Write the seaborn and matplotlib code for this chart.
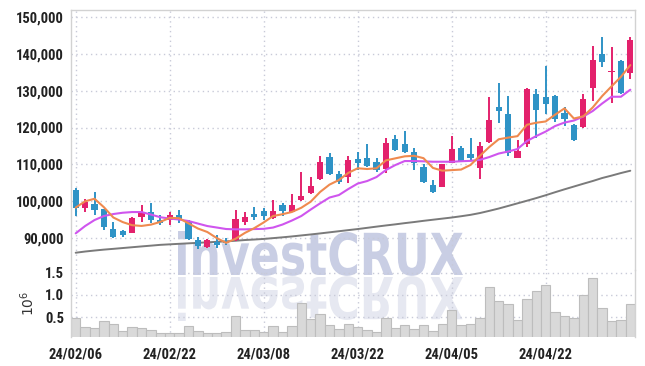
import numpy as np
import pandas as pd
import matplotlib
matplotlib.use('Agg')
import matplotlib.pyplot as plt
import matplotlib.ticker as mticker
from matplotlib.textpath import TextPath
from matplotlib.patches import PathPatch
from matplotlib.font_manager import FontProperties, fontManager
from matplotlib.transforms import Affine2D, IdentityTransform
import seaborn as sns

# ── données ────────────────────────────────────────────────────────────────
holidays = ['2024-02-09', '2024-02-12', '2024-03-01', '2024-04-10',
            '2024-05-01', '2024-05-06']
dates = pd.bdate_range('2024-02-06', '2024-05-07').drop(pd.to_datetime(holidays))

opens = [103000, 98000, 99100, 97800, 92350, 91800, 91350, 95700, 96900, 94800,
         94800, 96150, 94550, 89500, 87400, 88900, 89200, 89350, 94350, 96450,
         97350, 95250, 98900, 97050, 100250, 102100, 105950, 111900, 107250, 106600,
         111350, 111600, 110700, 108600, 116800, 115500, 113250, 109150, 104350, 103850,
         110400, 114350, 112800, 108900, 116150, 125650, 123650, 111600, 115400, 129050,
         128400, 128550, 123850, 120650, 120200, 130650, 140000, 135100, 138100, 134750]
highs = [103400, 100400, 102500, 97900, 94350, 92100, 95700, 98900, 99350, 96150,
         97050, 97550, 94800, 90300, 89600, 90600, 89800, 97550, 97050, 98450,
         98000, 100250, 99350, 101800, 107800, 106600, 112300, 113150, 108250, 112250,
         113400, 115500, 111600, 117200, 117950, 119100, 114500, 110050, 105700, 110050,
         117750, 115050, 117050, 115950, 128200, 132050, 128550, 116600, 130650, 130500,
         136800, 128800, 125650, 120900, 129050, 142250, 144700, 142000, 138300, 144700]
lows = [95900, 96900, 96200, 92100, 89800, 90250, 91200, 94350, 93900, 93450,
        93450, 94050, 89350, 86800, 87100, 87150, 88000, 89150, 93450, 94800,
        94800, 95100, 95900, 96900, 100050, 101900, 105700, 107000, 104600, 104800,
        108400, 109300, 107800, 107500, 113700, 112950, 108400, 105000, 102250, 103700,
        110250, 110700, 111150, 105900, 115700, 121150, 112300, 111600, 114750, 117050,
        123600, 121550, 120500, 116300, 119950, 127200, 136550, 126600, 129050, 133100]
closes = [98000, 99800, 97500, 93000, 90250, 90700, 95450, 96650, 94800, 94050,
          96150, 95000, 89650, 87600, 89300, 88000, 88450, 95100, 95700, 95700,
          95900, 97250, 97350, 98900, 101350, 104050, 110700, 107250, 105050, 111150,
          110400, 109500, 108400, 115700, 113850, 113250, 110250, 105250, 102500, 109950,
          114050, 110950, 111600, 114950, 122050, 124550, 112950, 113600, 130500, 124750,
          126400, 122250, 122250, 116600, 127750, 138350, 137900, 135450, 129450, 143800]
volumes = [490000, 280000, 250000, 410000, 350000, 190000, 280000, 250000, 220000, 150000,
           150000, 150000, 300000, 190000, 150000, 150000, 170000, 520000, 210000, 210000,
           170000, 300000, 170000, 300000, 810000, 450000, 570000, 320000, 230000, 340000,
           280000, 210000, 170000, 480000, 250000, 320000, 230000, 320000, 190000, 340000,
           660000, 320000, 340000, 480000, 1170000, 860000, 790000, 430000, 900000, 1100000,
           1220000, 610000, 520000, 480000, 990000, 1370000, 700000, 410000, 430000, 790000]
ma5 = [98200, 99900, 100600, 98300, 95500, 94250, 93400, 93200, 93550, 94300,
       95400, 95300, 93900, 92500, 91550, 89900, 88600, 89700, 91300, 92600,
       94150, 95900, 96400, 97000, 98150, 99800, 102450, 104450, 105700, 107650,
       108900, 108700, 108900, 111050, 111600, 112150, 112300, 111650, 109000, 108250,
       108400, 108550, 109800, 112300, 114700, 116800, 117250, 117650, 120750, 121300,
       121650, 123500, 125200, 122450, 123050, 125450, 128550, 131200, 133800, 137000]
ma20 = [91180, 93170, 94800, 95900, 96440, 96790, 96980, 96980, 96300, 95570,
        95210, 94940, 94530, 93850, 93170, 92770, 92360, 92270, 92270, 92350,
        92410, 92760, 93580, 94670, 95900, 97660, 99350, 100930, 101610, 103250,
        104740, 105420, 106510, 108420, 109780, 110870, 110870, 110790, 110680, 110680,
        110680, 110820, 110920, 111200, 111960, 112910, 113460, 114140, 116320, 117680,
        118900, 120400, 121350, 121900, 122990, 124490, 126530, 128380, 128380, 130290]
ma60 = [85900, 86230, 86500, 86750, 86960, 87180, 87400, 87620, 87830, 88050,
        88190, 88330, 88460, 88600, 88730, 88870, 89000, 89170, 89360, 89500,
        89660, 89880, 90100, 90340, 90610, 90880, 91160, 91460, 91760, 92060,
        92350, 92680, 93010, 93330, 93630, 93960, 94260, 94590, 94890, 95190,
        95490, 95840, 96220, 96710, 97310, 97940, 98640, 99350, 100060, 100790,
        101560, 102380, 103170, 103930, 104690, 105430, 106240, 106900, 107600, 108230]
price_ticks = [90000, 100000, 110000, 120000, 130000, 140000, 150000]
volume_ticks = [0.5, 1.0, 1.5]

df = pd.DataFrame({'date': dates, 'open': opens, 'high': highs, 'low': lows,
                   'close': closes, 'volume': volumes,
                   'ma5': ma5, 'ma20': ma20, 'ma60': ma60})
df['idx'] = np.arange(len(df))

# ── style ──────────────────────────────────────────────────────────────────
sns.set_style('white')
installes = {f.name for f in fontManager.ttflist}
etroites = [f for f in ['Roboto Condensed', 'Liberation Sans Narrow', 'Roboto']
            if f in installes] or ['DejaVu Sans']
plt.rcParams['font.family'] = etroites + ['DejaVu Sans']
taille = 10.5 if etroites[0] != 'Roboto' else 9.8

ROUGE, BLEU = '#e3216c', '#2f93c6'
GRILLE = '#c8cad8'
BORD = '#d2d2d2'
tick_font = dict(family=etroites, weight='bold', size=taille)

W, H = 645, 366
fig = plt.figure(figsize=(W / 100, H / 100), dpi=100)
ax = fig.add_axes([71 / W, 1 - 270 / H, 564 / W, 260 / H])
axv = fig.add_axes([71 / W, 1 - 337.3 / H, 564 / W, 67.3 / H], sharex=ax)
for a in (ax, axv):
    a.set_facecolor('none')

# ── filigrane investCRUX (avec reflet) ─────────────────────────────────────
tp = TextPath((0, 0), 'investCRUX', size=100,
              prop=FontProperties(family='DejaVu Sans', weight='bold'))
ext = tp.get_extents()
sx, sy = 285 / ext.width, 44 / ext.y1
wm = Affine2D().translate(-ext.x0, 0).scale(sx, sy).translate(178, H - 275)
rf = Affine2D().translate(-ext.x0, 0).scale(sx, -sy).translate(178, H - 277)
fig.add_artist(PathPatch(wm.transform_path(tp), facecolor='#c9cee4',
                         edgecolor='none', transform=IdentityTransform(), zorder=-2))
fig.add_artist(PathPatch(rf.transform_path(tp), facecolor='#e6e8f1',
                         edgecolor='none', transform=IdentityTransform(), zorder=-2))

# ── chandeliers ────────────────────────────────────────────────────────────
up = df['close'] >= df['open']
couleurs = np.where(up, ROUGE, BLEU)
ax.vlines(df['idx'], df['low'], df['high'], colors=couleurs, linewidth=1.4, zorder=3)
ax.bar(df['idx'], (df['close'] - df['open']).abs().clip(lower=250),
       bottom=df[['open', 'close']].min(axis=1), width=0.68,
       color=couleurs, linewidth=0, zorder=4)

# moyennes mobiles
sns.lineplot(data=df, x='idx', y='ma60', ax=ax, color='#7a7a7a', linewidth=1.4, zorder=2)
sns.lineplot(data=df, x='idx', y='ma20', ax=ax, color='#cf55ee', linewidth=1.5, zorder=5)
sns.lineplot(data=df, x='idx', y='ma5', ax=ax, color='#ef8a4f', linewidth=1.5, zorder=5)

# ── volume ─────────────────────────────────────────────────────────────────
df['vol_m'] = df['volume'] / 1e6
sns.barplot(data=df, x='idx', y='vol_m', ax=axv, native_scale=True, width=1.0,
            color='#d9d9d9', edgecolor='#bdbdbd', linewidth=0.8,
            errorbar=None, saturation=1)

# ── axes ───────────────────────────────────────────────────────────────────
pos = df['idx'][::10]
labels = df['date'][::10].dt.strftime('%y/%m/%d')

ax.set_xlim(-0.5, len(df) - 0.5)
ax.set_ylim(81200, 152000)
ax.set_yticks(price_ticks)
ax.yaxis.set_major_formatter(mticker.FuncFormatter(lambda v, p: f'{v:,.0f}'))
ax.set_xticks(pos)
ax.tick_params(axis='x', labelbottom=False)
ax.set_xlabel('')
ax.set_ylabel('')

axv.set_ylim(0.05, 1.56)
axv.set_yticks(volume_ticks)
axv.set_yticklabels([f'{v:.1f}' for v in volume_ticks])
axv.set_xticks(pos)
axv.set_xticklabels(labels)
axv.set_xlabel('')
axv.set_ylabel(r'$10^6$', fontsize=10, color='#333333', labelpad=6)

for a in (ax, axv):
    a.grid(True, linestyle=(0, (1, 2.5)), color=GRILLE, linewidth=1)
    a.set_axisbelow(True)
    a.tick_params(length=0, pad=5, colors='#222222')
    for lab in a.get_yticklabels() + a.get_xticklabels():
        lab.set_fontproperties(FontProperties(**tick_font))
    for s in a.spines.values():
        s.set_color(BORD)
        s.set_linewidth(1)

ax.spines['bottom'].set_visible(False)
axv.spines['top'].set_visible(False)
axv.spines['bottom'].set_visible(False)
axv.tick_params(axis='x', pad=7)

plt.savefig('out.png', dpi=100, facecolor='white')
